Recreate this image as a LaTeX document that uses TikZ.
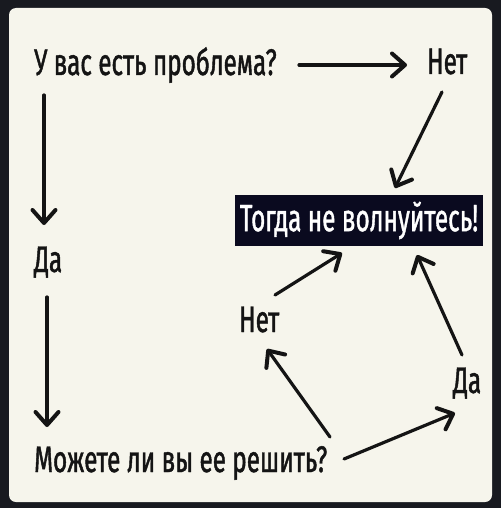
\documentclass[tikz,border=0pt]{standalone}
\usepackage{fontspec}
\setmainfont[FakeStretch=0.655,FakeBold=1.2]{Fira Sans}
\newfontfamily\boxfont[FakeStretch=0.64,FakeBold=1.0]{Fira Sans}
\usetikzlibrary{arrows.meta}
\definecolor{outerbg}{HTML}{181A20}
\definecolor{card}{HTML}{F6F5EC}
\definecolor{ink}{HTML}{141414}
\definecolor{boxbg}{HTML}{0A0A1F}
\begin{document}
\begin{tikzpicture}[x=1pt,y=-1pt,
  lbl/.style={inner sep=0pt, anchor=base west, text=ink, font=\fontsize{37}{40}\selectfont},
  arr/.style={draw=ink, line width=3.2pt, line cap=round, -{Straight Barb[length=13pt,width=23pt,line width=4pt,round]}},
  answerbox/.style={fill=boxbg, text=white, minimum width=248pt, minimum height=51pt, inner sep=0pt, font=\boxfont\fontsize{38}{40}\selectfont}]
\useasboundingbox (0,0) rectangle (501,508);
\fill[outerbg] (0,0) rectangle (501,508);
\fill[card, rounded corners=7pt] (9,8) rectangle (492,502);
% nodes
\node[lbl] (q1) at (34,75) {У вас есть проблема?};
\node[lbl] (no1) at (427,74) {Нет};
\node[answerbox] (box) at (359,220.5) {Тогда не волнуйтесь!};
\node[lbl] (yes1) at (34,272) {Да};
\node[lbl] (q2) at (34,472) {Можете ли вы ее решить?};
\node[lbl] (no2) at (239,332) {Нет};
\node[lbl] (yes2) at (453,393) {Да};
% connector end points
\coordinate (q1e) at (299,65);
\coordinate (no1w) at (407,65);
\coordinate (no1s) at (442,92);
\coordinate (boxn) at (395,188);
\coordinate (q1s) at (44,95);
\coordinate (yes1n) at (44,225);
\coordinate (yes1s) at (47,297);
\coordinate (q2n) at (47,427);
\coordinate (q2e) at (344,459);
\coordinate (yes2s) at (455,413);
\coordinate (q2ne) at (330,437);
\coordinate (no2s) at (267,349);
\coordinate (no2n) at (275,295);
\coordinate (boxs) at (342,253);
\coordinate (yes2n) at (462,355);
\coordinate (boxse) at (417,255);
% connectors
\draw[arr] (q1e) -- (no1w);
\draw[arr] (no1s) -- (boxn);
\draw[arr] (q1s) -- (yes1n);
\draw[arr] (yes1s) -- (q2n);
\draw[arr] (q2e) -- (yes2s);
\draw[arr] (q2ne) -- (no2s);
\draw[arr] (no2n) -- (boxs);
\draw[arr] (yes2n) -- (boxse);
\end{tikzpicture}
\end{document}
